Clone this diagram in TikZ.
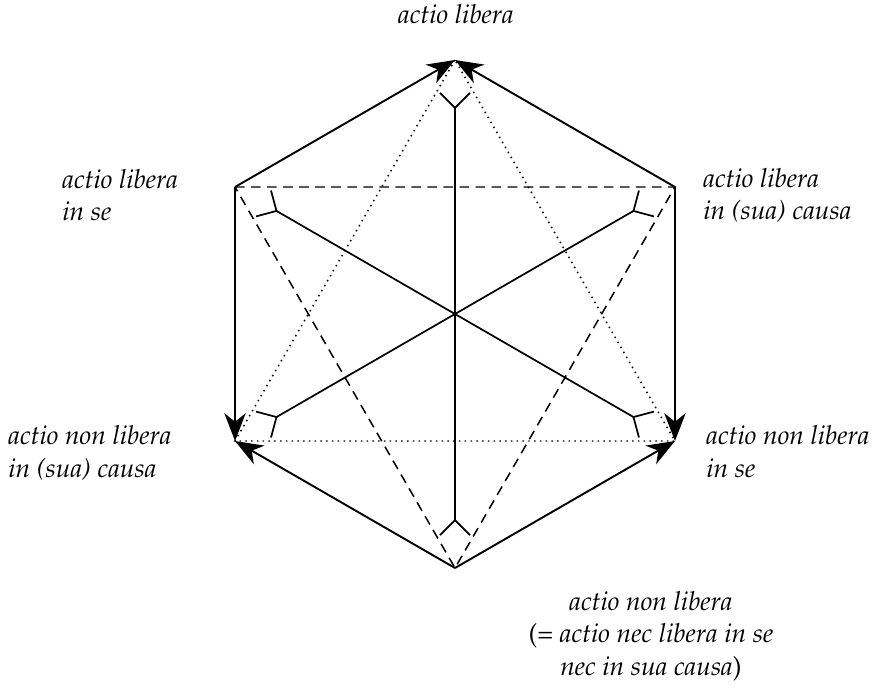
\documentclass[tikz,border=0pt]{standalone}
\usepackage[T1]{fontenc}
\renewcommand{\rmdefault}{ppl}
\usetikzlibrary{arrows.meta}

\begin{document}
\begin{tikzpicture}[x=0.4677pt,y=0.4677pt,
  lab/.style={font=\fontsize{12.3}{15}\selectfont\itshape,inner sep=0pt,align=left},
  arr/.style={line width=0.9pt,-{Stealth[length=13pt,width=10pt,inset=4pt]}},
  spoke/.style={line width=0.8pt,shorten >=15pt,-{Straight Barb[reversed,length=7pt,width=14pt]}},
  tri/.style={line width=0.7pt,dash pattern=on 4.5pt off 3pt},
  dots/.style={line width=0.7pt,dotted}]
\useasboundingbox (-455,-375) rectangle (417,314);

\coordinate (O)  at (0,0);
\coordinate (T)  at (90:254);
\coordinate (UL) at (150:254);
\coordinate (UR) at (30:254);
\coordinate (LL) at (210:254);
\coordinate (LR) at (330:254);
\coordinate (B)  at (270:254);

\node[lab,anchor=base] (tT) at (1,290) {actio libera};
\node[lab,anchor=base west] (tUL) at (-393,93) {actio libera\\in se};
\node[lab,anchor=base west] (tUR) at (248,94) {actio libera\\in (sua) causa};
\node[lab,anchor=base west] (tLL) at (-447,-163) {actio non libera\\in (sua) causa};
\node[lab,anchor=base west] (tLR) at (251,-163) {actio non libera\\in se};
\node[lab,align=center,anchor=base] (tB) at (196,-361)
  {actio non libera\\\textup{(=} actio nec libera in se\\nec in sua causa\textup{)}};

\draw[tri] (UL) -- (UR) -- (B) -- cycle;
\draw[dots] (T) -- (LL) -- (LR) -- cycle;

\draw[spoke] (O) -- (T);
\draw[spoke] (O) -- (UL);
\draw[spoke] (O) -- (UR);
\draw[spoke] (O) -- (LL);
\draw[spoke] (O) -- (LR);
\draw[spoke] (O) -- (B);

\draw[arr] (UL) -- (T);
\draw[arr] (UR) -- (T);
\draw[arr] (UL) -- (LL);
\draw[arr] (UR) -- (LR);
\draw[arr] (B) -- (LL);
\draw[arr] (B) -- (LR);
\end{tikzpicture}
\end{document}
